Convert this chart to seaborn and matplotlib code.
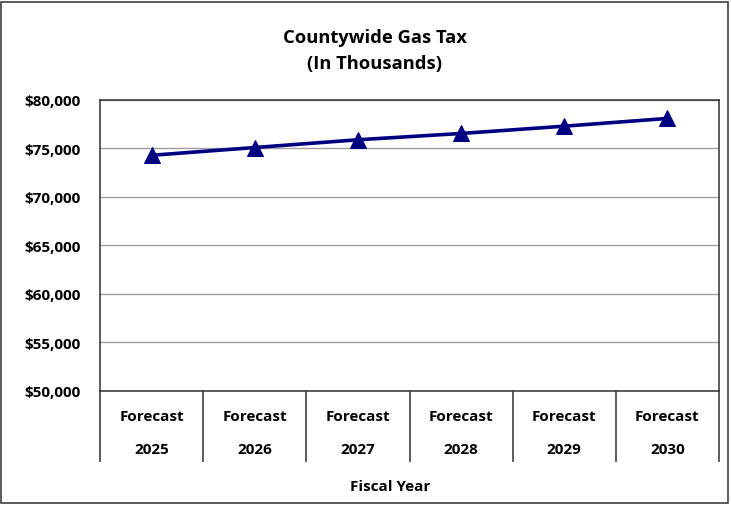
import matplotlib
matplotlib.use("Agg")
import pandas as pd
import matplotlib.pyplot as plt
import seaborn as sns
from matplotlib.patches import Rectangle

# ======================================================
# DATA
# ======================================================
years = ["2025", "2026", "2027", "2028", "2029", "2030"]
labels = ["Forecast\n" + y for y in years]
gas_tax = [74300, 75100, 75900, 76550, 77300, 78100]
y_ticks = [50000, 55000, 60000, 65000, 70000, 75000, 80000]

df = pd.DataFrame({"pos": range(len(years)), "value": gas_tax})

# ======================================================
# PLOT
# ======================================================
sns.set_theme(style="white")
plt.rcParams["font.family"] = ["Open Sans", "DejaVu Sans"]
plt.rcParams["text.color"] = "black"
plt.rcParams["xtick.color"] = "black"
plt.rcParams["ytick.color"] = "black"

fig = plt.figure(figsize=(7.31, 5.06), dpi=100)
ax = fig.add_axes([0.1368, 0.2253, 0.8468, 0.5751])

sns.lineplot(
    data=df, x="pos", y="value", ax=ax,
    color="#000080", linewidth=2.6,
    marker="^", markersize=11, markeredgecolor="#000080",
)

ax.set_xlim(-0.5, len(years) - 0.5)
ax.set_ylim(50000, 80000)
ax.set_yticks(y_ticks)
ax.set_yticklabels([f"${v:,.0f}" for v in y_ticks], fontsize=11, fontweight="bold")
ax.yaxis.grid(True, color="#a0a0a0", linewidth=1)
ax.tick_params(axis="y", length=0, pad=14)

# separators below the axis = long major ticks at the boundaries
bounds = [i - 0.5 for i in range(len(years) + 1)]
ax.set_xticks(bounds)
ax.set_xticklabels([""] * len(bounds))
ax.tick_params(axis="x", which="major", direction="out", length=51, width=1.1,
               color="#303030", bottom=True)
# category labels on minor ticks
ax.set_xticks(range(len(years)), minor=True)
ax.set_xticklabels(labels, minor=True, fontsize=11, fontweight="bold",
                   linespacing=2.75)
ax.tick_params(axis="x", which="minor", length=0, pad=13)

for side in ["top", "right", "bottom", "left"]:
    ax.spines[side].set_visible(True)
    ax.spines[side].set_color("#303030")
    ax.spines[side].set_linewidth(1.1)

ax.set_xlabel("")
ax.set_ylabel("")
fig.text(390 / 731, 1 - 487 / 506, "Fiscal Year", fontsize=11, fontweight="bold",
         ha="center", va="center")
fig.text(375 / 731, 1 - 51 / 506, "Countywide Gas Tax\n(In Thousands)", fontsize=13.2,
         fontweight="bold", ha="center", va="center", linespacing=1.6)

# outer chart border
fig.patches.append(Rectangle((0.002, 0.004), 0.994, 0.99, transform=fig.transFigure,
                             fill=False, edgecolor="#404040", linewidth=1.2))

fig.savefig("out.png", dpi=100)
